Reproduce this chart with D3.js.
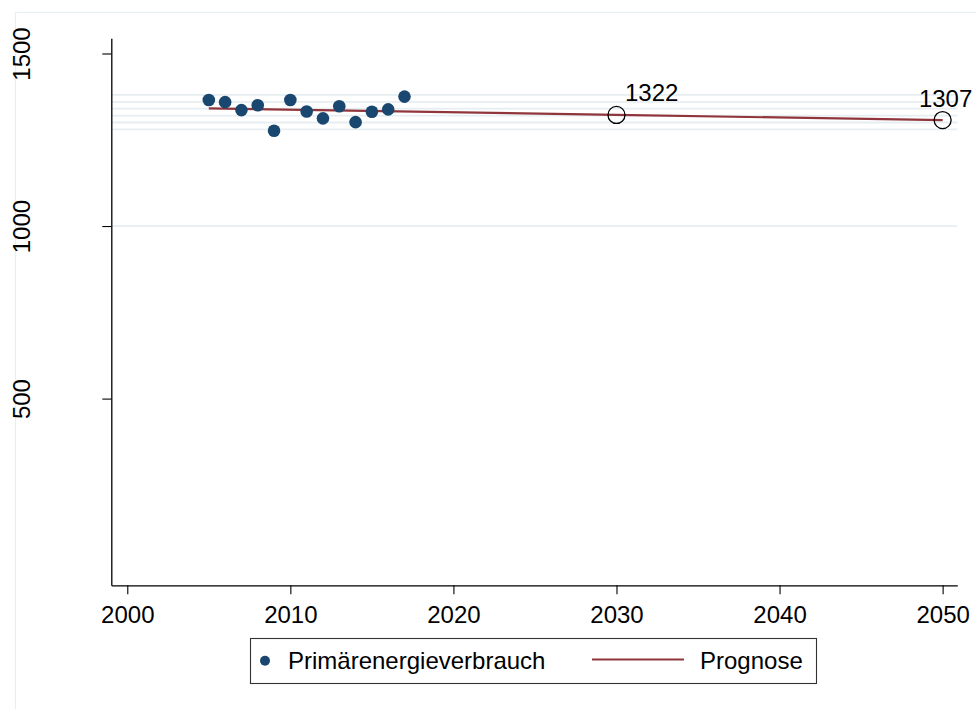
<!DOCTYPE html>
<html>
<head>
<meta charset="utf-8">
<script src="https://cdn.jsdelivr.net/npm/d3@7"></script>
<style>
  html, body { margin: 0; padding: 0; background: #fff; }
  svg { display: block; font-family: "Liberation Sans", Arial, sans-serif; }
</style>
</head>
<body>
<svg id="chart" width="976" height="709"></svg>
<script>
// ---- data ----
const years = [2005, 2006, 2007, 2008, 2009, 2010, 2011, 2012, 2013, 2014, 2015, 2016, 2017];
const consumption = [1365, 1359, 1336, 1350, 1276, 1365, 1332, 1312, 1347, 1301, 1331, 1338, 1375];
const forecastYears = [2005, 2030, 2050];
const forecastValues = [1341, 1322, 1307];
const labelledYears = [2030, 2050];
const labelledValues = [1322, 1307];
const xTicks = [2000, 2010, 2020, 2030, 2040, 2050];
const yTicks = [500, 1000, 1500];
const yGrid = [1000];
const yLines = [1280, 1300, 1320, 1340, 1360, 1380];
const seriesNames = ["Primärenergieverbrauch", "Prognose"];

// ---- layout ----
const svg = d3.select("#chart");
const navy = "#1a476f", maroon = "#90353b", grid = "#e6eef1";

const x = d3.scaleLinear().domain([1999.02, 2050.9]).range([111.3, 957.3]);
const y = d3.scaleLinear().domain([-41, 1544]).range([585.3, 38.3]);

// outer frame
svg.append("rect").attr("x", 15.5).attr("y", 12.5).attr("width", 1000).attr("height", 1000)
  .attr("fill", "none").attr("stroke", grid).attr("stroke-width", 1.2);

// gridlines
svg.append("g").selectAll("line").data(yGrid.concat(yLines)).join("line")
  .attr("x1", x.range()[0]).attr("x2", x.range()[1])
  .attr("y1", d => y(d)).attr("y2", d => y(d))
  .attr("stroke", grid).attr("stroke-width", 1.8);

// axes
const xAxis = svg.append("g").attr("transform", `translate(0,${y.range()[0]})`)
  .call(d3.axisBottom(x).tickValues(xTicks).tickFormat(d3.format("d")).tickSize(9).tickSizeOuter(0).tickPadding(12));
xAxis.select(".domain").attr("stroke", "#000").attr("stroke-width", 1.3);
xAxis.selectAll(".tick line").attr("stroke", "#000").attr("stroke-width", 1.1);
xAxis.selectAll(".tick text").attr("font-size", 24).attr("fill", "#000")
  .attr("font-family", "Liberation Sans, Arial, sans-serif");

const yAxis = svg.append("g").attr("transform", `translate(${x.range()[0]},0)`)
  .call(d3.axisLeft(y).tickValues(yTicks).tickFormat(d3.format("d")).tickSize(9).tickSizeOuter(0));
yAxis.select(".domain").attr("stroke", "#000").attr("stroke-width", 1.3);
yAxis.selectAll(".tick line").attr("stroke", "#000").attr("stroke-width", 1.1);
yAxis.selectAll(".tick text")
  .attr("font-size", 24).attr("fill", "#000")
  .attr("font-family", "Liberation Sans, Arial, sans-serif")
  .attr("x", null).attr("dy", null)
  .attr("text-anchor", "middle")
  .attr("transform", "translate(-81,0) rotate(-90)");

// forecast line
const line = d3.line().x(d => x(d[0])).y(d => y(d[1]));
svg.append("path").datum(d3.zip(forecastYears, forecastValues))
  .attr("d", line).attr("fill", "none").attr("stroke", maroon).attr("stroke-width", 2.2);

// data points
svg.append("g").selectAll("circle").data(d3.zip(years, consumption)).join("circle")
  .attr("cx", d => x(d[0])).attr("cy", d => y(d[1])).attr("r", 6.3).attr("fill", navy);

// labelled forecast markers
const lab = d3.zip(labelledYears, labelledValues);
svg.append("g").selectAll("circle").data(lab).join("circle")
  .attr("cx", d => x(d[0])).attr("cy", d => y(d[1])).attr("r", 8.5)
  .attr("fill", "none").attr("stroke", "#000").attr("stroke-width", 1.3);
svg.append("g").selectAll("text").data(lab).join("text")
  .attr("x", (d, i) => i === 0 ? x(d[0]) + 8.5 : x(d[0]) + 3)
  .attr("y", (d, i) => y(d[1]) - (i === 0 ? 14 : 13))
  .attr("text-anchor", (d, i) => i === 0 ? "start" : "middle")
  .attr("font-size", 24).attr("fill", "#000")
  .text(d => d[1]);

// legend
const lg = svg.append("g");
lg.append("rect").attr("x", 250.5).attr("y", 638.5).attr("width", 566).attr("height", 45)
  .attr("fill", "#fff").attr("stroke", "#333").attr("stroke-width", 1.1);
lg.append("circle").attr("cx", 265).attr("cy", 660.7).attr("r", 5).attr("fill", navy);
lg.append("text").attr("x", 288).attr("y", 669.3).attr("font-size", 24).attr("fill", "#000").text(seriesNames[0]);
lg.append("line").attr("x1", 592).attr("x2", 684).attr("y1", 659.5).attr("y2", 659.5)
  .attr("stroke", maroon).attr("stroke-width", 2.2);
lg.append("text").attr("x", 700).attr("y", 669.3).attr("font-size", 24).attr("fill", "#000").text(seriesNames[1]);
</script>
</body>
</html>
